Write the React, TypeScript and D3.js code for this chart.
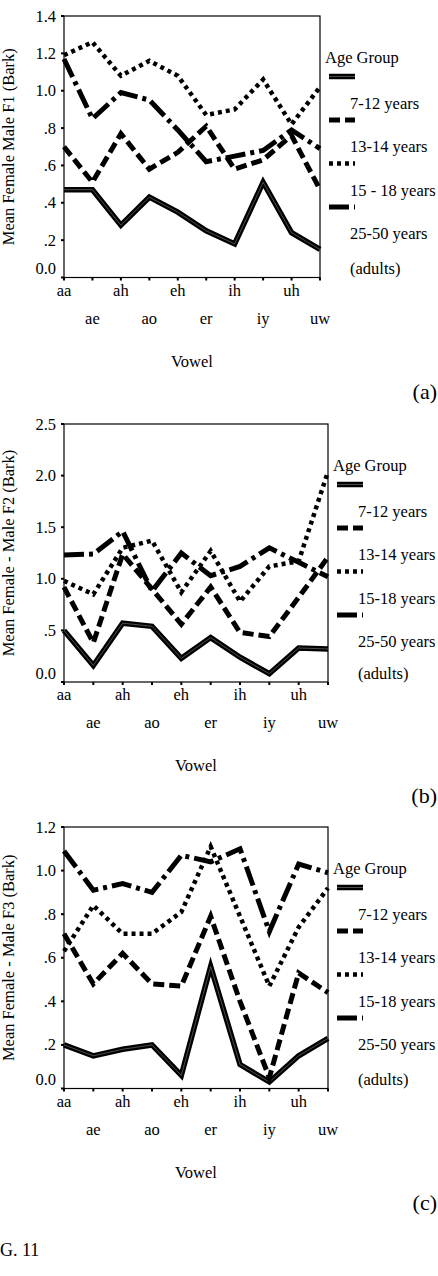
import * as d3 from "d3";

const vowels = ["aa", "ae", "ah", "ao", "eh", "er", "ih", "iy", "uh", "uw"];

// F1 differences (Bark), one array per age group
const f1Age7to12 = [0.47, 0.47, 0.28, 0.43, 0.35, 0.25, 0.18, 0.51, 0.24, 0.15];
const f1Age13to14 = [0.7, 0.51, 0.77, 0.58, 0.67, 0.81, 0.58, 0.63, 0.76, 0.47];
const f1Age15to18 = [1.19, 1.26, 1.08, 1.16, 1.08, 0.87, 0.9, 1.06, 0.82, 1.02];
const f1Adults = [1.17, 0.85, 0.99, 0.95, 0.79, 0.62, 0.65, 0.68, 0.79, 0.69];

// F2 differences
const f2Age7to12 = [0.5, 0.16, 0.57, 0.54, 0.23, 0.43, 0.24, 0.08, 0.33, 0.32];
const f2Age13to14 = [0.92, 0.38, 1.24, 0.9, 0.56, 0.92, 0.48, 0.44, 0.82, 1.21];
const f2Age15to18 = [0.98, 0.85, 1.3, 1.37, 0.87, 1.27, 0.78, 1.12, 1.17, 2.04];
const f2Adults = [1.23, 1.24, 1.46, 0.88, 1.25, 1.03, 1.12, 1.3, 1.16, 1.02];

// F3 differences
const f3Age7to12 = [0.2, 0.15, 0.18, 0.2, 0.06, 0.56, 0.11, 0.03, 0.15, 0.23];
const f3Age13to14 = [0.71, 0.48, 0.62, 0.48, 0.47, 0.79, 0.4, 0.05, 0.53, 0.44];
const f3Age15to18 = [0.63, 0.84, 0.71, 0.71, 0.81, 1.11, 0.79, 0.47, 0.74, 0.92];
const f3Adults = [1.09, 0.91, 0.94, 0.9, 1.07, 1.04, 1.1, 0.72, 1.03, 0.99];

const f1Ticks = [0, 0.2, 0.4, 0.6, 0.8, 1.0, 1.2, 1.4];
const f1TickLabels = ["0.0", ".2", ".4", ".6", ".8", "1.0", "1.2", "1.4"];
const f2Ticks = [0, 0.5, 1.0, 1.5, 2.0, 2.5];
const f2TickLabels = ["0.0", ".5", "1.0", "1.5", "2.0", "2.5"];
const f3Ticks = [0, 0.2, 0.4, 0.6, 0.8, 1.0, 1.2];
const f3TickLabels = ["0.0", ".2", ".4", ".6", ".8", "1.0", "1.2"];

const legendA = ["7-12 years", "13-14 years", "15 - 18 years", "25-50 years"];
const legendBC = ["7-12 years", "13-14 years", "15-18 years", "25-50 years"];

const FONT = "'Liberation Serif', 'Times New Roman', serif";
const FS = 16.5;
const LEFT = 64;

// stroke looks: solid (drawn doubled), dashed, dotted, dash-dot
const lineStyles = [
  { dash: undefined, width: 5.5 },
  { dash: "11 5", width: 5 },
  { dash: "4 4", width: 4.5 },
  { dash: "20 5 4 5", width: 5 },
];

const panels = [
  {
    id: "a", title: "Mean Female Male F1 (Bark)", tag: "(a)",
    series: [f1Age7to12, f1Age13to14, f1Age15to18, f1Adults],
    ticks: f1Ticks, tickLabels: f1TickLabels, legend: legendA,
    top: 16, bottom: 277.5, right: 320,
  },
  {
    id: "b", title: "Mean Female - Male F2 (Bark)", tag: "(b)",
    series: [f2Age7to12, f2Age13to14, f2Age15to18, f2Adults],
    ticks: f2Ticks, tickLabels: f2TickLabels, legend: legendBC,
    top: 424, bottom: 682, right: 328,
  },
  {
    id: "c", title: "Mean Female - Male F3 (Bark)", tag: "(c)",
    series: [f3Age7to12, f3Age13to14, f3Age15to18, f3Adults],
    ticks: f3Ticks, tickLabels: f3TickLabels, legend: legendBC,
    top: 827, bottom: 1088.5, right: 328,
  },
];

function StyledPath({ d, styleIndex }: { d: string; styleIndex: number }) {
  const s = lineStyles[styleIndex];
  return (
    <g fill="none" strokeLinejoin="miter" strokeMiterlimit={10}>
      <path d={d} stroke="#000" strokeWidth={s.width} strokeDasharray={s.dash} />
      {styleIndex === 0 && <path d={d} stroke="#6e6e6e" strokeWidth={0.7} />}
    </g>
  );
}

function Panel({ p }: { p: typeof panels[number] }) {
  const x = d3.scalePoint<string>().domain(vowels).range([LEFT, p.right]);
  const y = d3.scaleLinear().domain([0, p.ticks[p.ticks.length - 1]]).range([p.bottom, p.top]);
  const line = d3.line<number>()
    .x((_, i) => x(vowels[i]) as number)
    .y(d => y(d));
  const midY = (p.top + p.bottom) / 2;
  const lx = p.right;

  return (
    <g fontFamily={FONT} fontSize={FS} fill="#000">
      {/* frame */}
      <rect x={LEFT} y={p.top} width={p.right - LEFT} height={p.bottom - p.top}
        fill="none" stroke="#000" strokeWidth={1.2} />

      {/* y ticks and labels */}
      {p.ticks.map((t, i) => (
        <g key={t}>
          <line x1={LEFT - 3} x2={LEFT} y1={y(t)} y2={y(t)} stroke="#000" strokeWidth={2} />
          <text x={56} y={y(t) + 5.5 - (t === 0 ? 9 : 0)} textAnchor="end">{p.tickLabels[i]}</text>
        </g>
      ))}

      {/* x ticks and staggered vowel labels */}
      {vowels.map((v, i) => (
        <g key={v}>
          <line x1={x(v)} x2={x(v)} y1={p.bottom} y2={p.bottom + 3} stroke="#000" strokeWidth={2} />
          <text x={x(v)} y={p.bottom + (i % 2 === 0 ? 18 : 46)} textAnchor="middle">{v}</text>
        </g>
      ))}

      <text x={(LEFT + p.right) / 2} y={p.bottom + 89} textAnchor="middle">Vowel</text>
      <text x={437} y={p.bottom + 121} textAnchor="end" fontSize={22}>{p.tag}</text>
      <text transform={`translate(14,${midY}) rotate(-90)`} textAnchor="middle">{p.title}</text>

      {/* series */}
      {p.series.map((s, i) => (
        <StyledPath key={i} d={line(s) as string} styleIndex={i} />
      ))}

      {/* legend */}
      <text x={lx + 5} y={p.top + 47}>Age Group</text>
      {p.legend.map((label, i) => {
        const sy = p.top + 60.5 + 43.5 * i;
        return (
          <g key={label}>
            <StyledPath d={`M${lx + 9},${sy}H${lx + 35}`} styleIndex={i} />
            <text x={lx + 30} y={p.top + 92.5 + 43.5 * i}>{label}</text>
          </g>
        );
      })}
      <text x={lx + 30} y={p.bottom - 3.5}>(adults)</text>
    </g>
  );
}

export default function App() {
  return (
    <svg
      width={438}
      height={1276}
      style={{ position: "absolute", left: 0, top: 0, background: "#fff" }}
    >
      <rect width={438} height={1276} fill="#fff" />
      {panels.map(p => <Panel key={p.id} p={p} />)}
      <text x={0} y={1256} fontFamily={FONT} fontSize={18}>G. 11</text>
    </svg>
  );
}
